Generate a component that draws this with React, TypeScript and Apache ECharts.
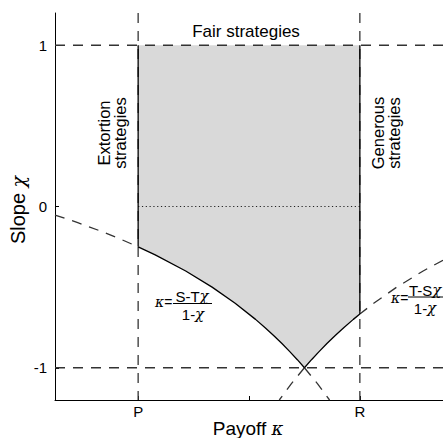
import React, { useEffect, useRef } from "react";
import * as echarts from "echarts";

// Axis ticks / labels
const xTickValues = [1, 2, 3];
const xLabelValues = [1, 3];
const xLabelNames = ["P", "R"];
const yTickValues = [-1, 0, 1];

// Shaded feasible region boundary (κ, χ)
const regionKappa = [1, 3, 3, 2.941, 2.857, 2.778, 2.703, 2.632, 2.564, 2.5, 2.436, 2.368, 2.297, 2.222, 2.143, 2.059, 1.875, 1.667, 1.429, 1.154, 1];
const regionChi = [1, 1, -0.667, -0.7, -0.75, -0.8, -0.85, -0.9, -0.95, -1, -0.95, -0.9, -0.85, -0.8, -0.75, -0.7, -0.6, -0.5, -0.4, -0.3, -0.25];

// Left curve κ=(S-Tχ)/(1-χ)
const leftSolidKappa = [1, 1.154, 1.429, 1.667, 1.875, 2.059, 2.143, 2.222, 2.297, 2.368, 2.436, 2.5];
const leftSolidChi = [-0.25, -0.3, -0.4, -0.5, -0.6, -0.7, -0.75, -0.8, -0.85, -0.9, -0.95, -1];
const leftUpperKappa = [0.25, 0.455, 0.652, 0.833, 1];
const leftUpperChi = [-0.053, -0.1, -0.15, -0.2, -0.25];
const leftLowerKappa = [2.5, 2.619, 2.727];
const leftLowerChi = [-1, -1.1, -1.2];

// Right curve κ=(T-Sχ)/(1-χ)
const rightSolidKappa = [3, 2.941, 2.857, 2.778, 2.703, 2.632, 2.564, 2.5];
const rightSolidChi = [-0.667, -0.7, -0.75, -0.8, -0.85, -0.9, -0.95, -1];
const rightUpperKappa = [3.75, 3.571, 3.333, 3.125, 3];
const rightUpperChi = [-0.333, -0.4, -0.5, -0.6, -0.667];
const rightLowerKappa = [2.5, 2.381, 2.273];
const rightLowerChi = [-1, -1.1, -1.2];

// Reference lines
const xMin = 0.25;
const xMax = 3.75;
const yMin = -1.2;
const yMax = 1.2;
const P = 1;
const R = 3;

const zip = (a: number[], b: number[]) => a.map((v, i) => [v, b[i]]);

const SANS = "'Liberation Sans', Arial, Helvetica, sans-serif";
const SERIF = "'DejaVu Serif', 'Liberation Serif', serif";

const DASH = [10, 8];
const DASH_COLOR = "#333";

export default function App() {
  const ref = useRef<HTMLDivElement>(null);

  useEffect(() => {
    if (!ref.current) return;
    const chart = echarts.init(ref.current, null, { renderer: "svg" });

    const dashedLine = (data: number[][], z = 3) => ({
      type: "line",
      data,
      symbol: "none",
      silent: true,
      z,
      lineStyle: { color: DASH_COLOR, width: 1.3, type: DASH },
    });
    const solidLine = (data: number[][], z = 4) => ({
      type: "line",
      data,
      symbol: "none",
      silent: true,
      z,
      lineStyle: { color: "#000", width: 1.3, type: "solid" },
    });

    const greek = { fontFamily: SERIF, fontStyle: "italic", fontSize: 15, fill: "#000" };
    const greekSm = { fontFamily: SERIF, fontStyle: "italic", fontSize: 14, fill: "#000" };

    chart.setOption({
      animation: false,
      grid: { left: 55, right: 0, top: 13, bottom: 38 },
      xAxis: {
        type: "value",
        min: xMin,
        max: xMax,
        axisLine: { show: true, onZero: false, lineStyle: { color: "#000", width: 1 } },
        axisTick: { show: true, inside: true, length: 4, customValues: xTickValues, lineStyle: { color: "#000" } },
        axisLabel: {
          customValues: xLabelValues,
          formatter: (v: number) => {
            const i = xLabelValues.indexOf(v);
            return i >= 0 ? xLabelNames[i] : "";
          },
          color: "#000",
          fontSize: 15,
          fontFamily: SANS,
          margin: 4,
        },
        splitLine: { show: false },
      },
      yAxis: {
        type: "value",
        min: yMin,
        max: yMax,
        axisLine: { show: true, onZero: false, lineStyle: { color: "#000", width: 1 } },
        axisTick: { show: true, inside: true, length: 4, customValues: yTickValues, lineStyle: { color: "#000" } },
        axisLabel: {
          customValues: yTickValues,
          formatter: (v: number) => String(Math.round(v)),
          color: "#000",
          fontSize: 15,
          fontFamily: SANS,
          margin: 8,
        },
        splitLine: { show: false },
      },
      series: [
        {
          type: "custom",
          silent: true,
          z: 1,
          data: zip(regionKappa, regionChi),
          renderItem: (params: any, api: any) => {
            if (params.dataIndex !== 0) return { type: "group", children: [] };
            const pts = regionKappa.map((k, i) => api.coord([k, regionChi[i]]));
            return { type: "polygon", shape: { points: pts }, style: { fill: "#d9d9d9", stroke: null } };
          },
        },
        dashedLine([[xMin, 1], [xMax, 1]]),
        dashedLine([[xMin, -1], [xMax, -1]]),
        dashedLine([[P, yMax], [P, yMin]]),
        dashedLine([[R, yMax], [R, yMin]]),
        {
          type: "line",
          data: [[P, 0], [R, 0]],
          symbol: "none",
          silent: true,
          z: 3,
          lineStyle: { color: "#222", width: 1.2, type: [1.2, 2.6] },
        },
        dashedLine(zip(leftUpperKappa, leftUpperChi)),
        dashedLine(zip(leftLowerKappa, leftLowerChi)),
        dashedLine(zip(rightUpperKappa, rightUpperChi)),
        dashedLine(zip(rightLowerKappa, rightLowerChi)),
        solidLine(zip(leftSolidKappa, leftSolidChi)),
        solidLine(zip(rightSolidKappa, rightSolidChi)),
        solidLine([[P, 1], [P, -0.25]]),
        solidLine([[R, 1], [R, -0.667]]),
      ],
      graphic: [
        {
          type: "text",
          x: 246,
          y: 31,
          style: { text: "Fair strategies", font: `17px ${SANS}`, fill: "#000", align: "center", verticalAlign: "middle" },
        },
        {
          type: "text",
          x: 112,
          y: 133,
          rotation: Math.PI / 2,
          style: {
            text: "Extortion\nstrategies",
            fontSize: 16.5,
            fontFamily: SANS,
            lineHeight: 16,
            fill: "#000",
            align: "center",
            verticalAlign: "middle",
          },
        },
        {
          type: "text",
          x: 386,
          y: 133,
          rotation: Math.PI / 2,
          style: {
            text: "Generous\nstrategies",
            fontSize: 16.5,
            fontFamily: SANS,
            lineHeight: 16,
            fill: "#000",
            align: "center",
            verticalAlign: "middle",
          },
        },
        {
          type: "text",
          x: 250,
          y: 219,
          style: { text: "Equalizers", font: `17px ${SANS}`, fill: "#000", align: "center", verticalAlign: "middle" },
        },
        // Axis names
        {
          type: "text",
          x: 18,
          y: 210,
          rotation: Math.PI / 2,
          style: {
            text: "{a|Slope }{g|χ}",
            align: "center",
            verticalAlign: "middle",
            rich: {
              a: { fontFamily: SANS, fontSize: 20, fill: "#000" },
              g: { fontFamily: SERIF, fontStyle: "italic", fontSize: 19, fill: "#000" },
            },
          },
        },
        {
          type: "text",
          x: 248,
          y: 428,
          style: {
            text: "{a|Payoff }{g|κ}",
            align: "center",
            verticalAlign: "middle",
            rich: {
              a: { fontFamily: SANS, fontSize: 19, fill: "#000" },
              g: { fontFamily: SERIF, fontStyle: "italic", fontSize: 18, fill: "#000" },
            },
          },
        },
        // Left formula
        {
          type: "text",
          x: 155,
          y: 302,
          style: {
            text: "{g|κ}{e|=}",
            align: "left",
            verticalAlign: "middle",
            rich: { g: greekSm, e: { fontFamily: SANS, fontSize: 14, fill: "#000" } },
          },
        },
        {
          type: "text",
          x: 192,
          y: 296,
          style: {
            text: "{a|S-T}{g|χ}",
            align: "center",
            verticalAlign: "middle",
            rich: { a: { fontFamily: SANS, fontSize: 15, fill: "#000" }, g: greek },
          },
        },
        { type: "line", shape: { x1: 173, y1: 303.5, x2: 212, y2: 303.5 }, style: { stroke: "#000", lineWidth: 1 } },
        {
          type: "text",
          x: 193,
          y: 314,
          style: {
            text: "{a|1-}{g|χ}",
            align: "center",
            verticalAlign: "middle",
            rich: { a: { fontFamily: SANS, fontSize: 15, fill: "#000" }, g: greek },
          },
        },
        // Right formula
        {
          type: "text",
          x: 391,
          y: 298,
          style: {
            text: "{g|κ}{e|=}",
            align: "left",
            verticalAlign: "middle",
            rich: { g: greekSm, e: { fontFamily: SANS, fontSize: 14, fill: "#000" } },
          },
        },
        {
          type: "text",
          x: 409,
          y: 290,
          style: {
            text: "{a|T-S}{g|χ}",
            align: "left",
            verticalAlign: "middle",
            rich: { a: { fontFamily: SANS, fontSize: 15, fill: "#000" }, g: greek },
          },
        },
        { type: "line", shape: { x1: 408, y1: 297, x2: 445, y2: 297 }, style: { stroke: "#000", lineWidth: 1 } },
        {
          type: "text",
          x: 425,
          y: 308,
          style: {
            text: "{a|1-}{g|χ}",
            align: "center",
            verticalAlign: "middle",
            rich: { a: { fontFamily: SANS, fontSize: 15, fill: "#000" }, g: greek },
          },
        },
      ],
    });

    return () => chart.dispose();
  }, []);

  return (
    <div
      ref={ref}
      style={{ position: "fixed", left: 0, top: 0, width: 443, height: 438, background: "#fff" }}
    />
  );
}
